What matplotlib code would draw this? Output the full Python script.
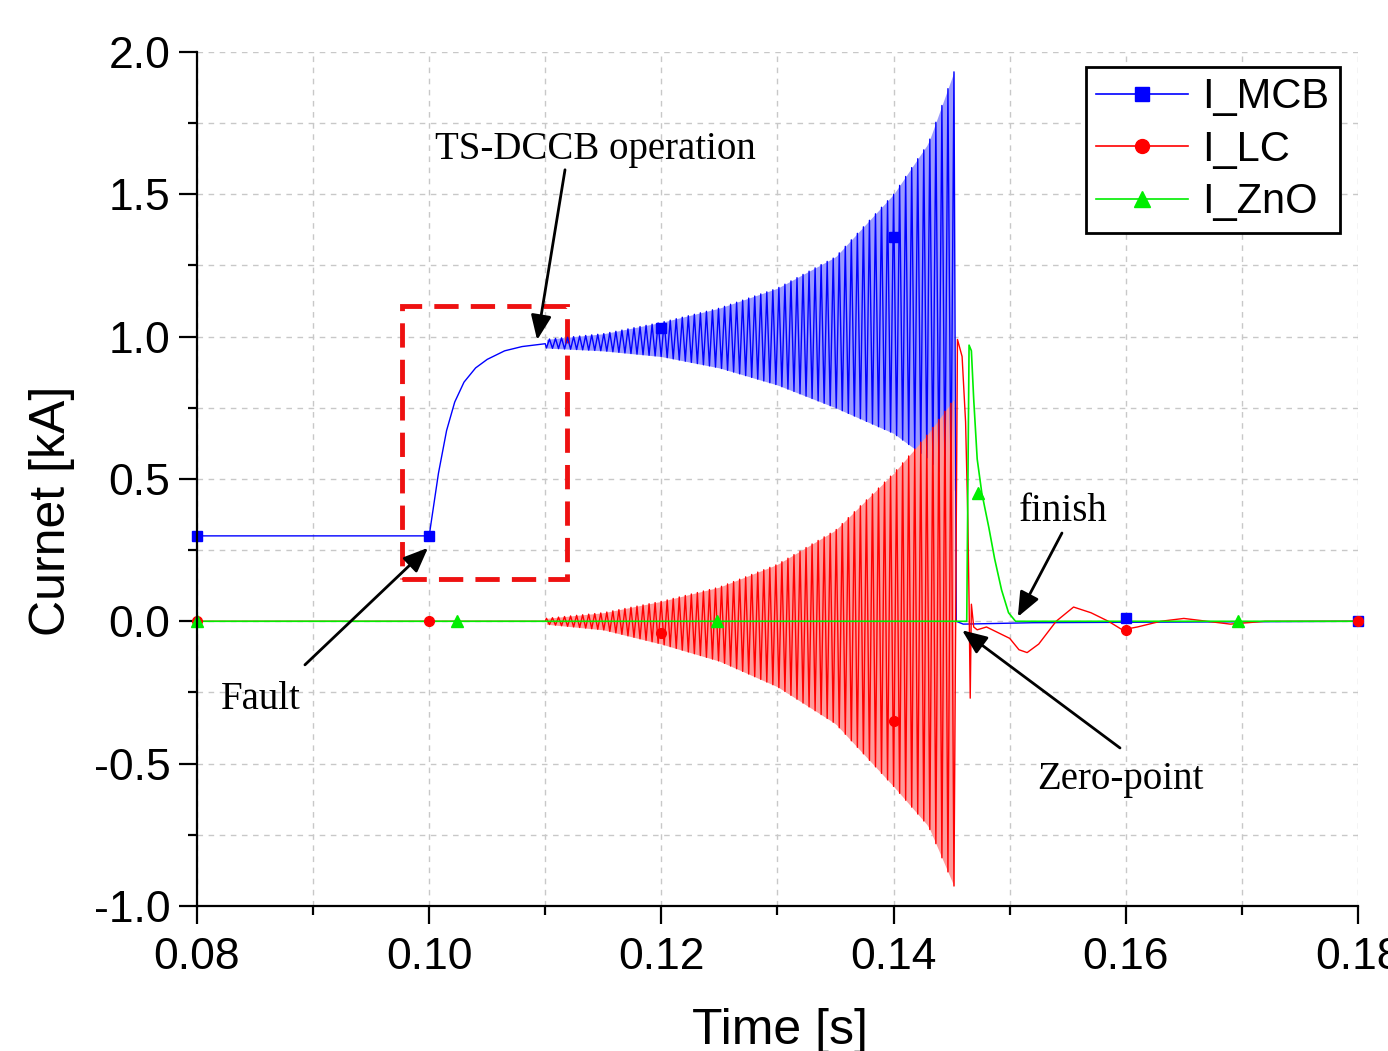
# Import required libraries
import matplotlib
matplotlib.use('Agg')
import matplotlib.pyplot as plt
import numpy as np
from matplotlib.ticker import MultipleLocator, FormatStrFormatter
from matplotlib.lines import Line2D
from matplotlib.patches import Rectangle

plt.rcParams['font.family'] = ['Liberation Sans', 'DejaVu Sans']
plt.rcParams['axes.unicode_minus'] = False

# ---- Data (time in s, current in kA) ----
# I_MCB before the oscillation (steady state, fault at 0.10 s, rise)
mcb_pre_t = [0.0800, 0.0998, 0.1000, 0.1008, 0.1015, 0.1022, 0.1030,
             0.1040, 0.1050, 0.1065, 0.1080, 0.1100]
mcb_pre = [0.30, 0.30, 0.30, 0.52, 0.67, 0.77, 0.84, 0.89, 0.92, 0.95,
           0.965, 0.975]

# Envelope of the oscillation (upper / lower peaks)
env_t = [0.1100, 0.1150, 0.1200, 0.1250, 0.1300, 0.1350, 0.1400, 0.1430, 0.1452]
mcb_upper = [0.99, 1.01, 1.05, 1.10, 1.17, 1.28, 1.50, 1.68, 1.93]
mcb_lower = [0.96, 0.95, 0.93, 0.89, 0.83, 0.75, 0.66, 0.57, 0.46]
lc_upper = [0.01, 0.03, 0.07, 0.12, 0.20, 0.32, 0.52, 0.66, 0.78]
lc_lower = [-0.01, -0.03, -0.08, -0.14, -0.23, -0.36, -0.58, -0.72, -0.93]
osc_start = 0.1101
osc_end = 0.1452
osc_period = 0.00052

# After current zero
mcb_post_t = [0.1454, 0.1460, 0.1520, 0.1800]
mcb_post = [0.0, -0.01, -0.005, 0.0]

lc_post_t = [0.1455, 0.1459, 0.1462, 0.1464, 0.1465, 0.1466, 0.1467, 0.1469,
             0.1472, 0.1480, 0.1490, 0.1500, 0.1508, 0.1515, 0.1525, 0.1540,
             0.1555, 0.1570, 0.1585, 0.1597, 0.1610, 0.1630, 0.1650, 0.1670,
             0.1690, 0.1720, 0.1800]
lc_post = [0.99, 0.93, 0.70, 0.35, 0.07, -0.27, 0.06, -0.02, -0.03, -0.02,
           -0.04, -0.06, -0.10, -0.11, -0.08, 0.0, 0.05, 0.03, 0.0, -0.03,
           -0.02, 0.0, 0.01, 0.0, -0.01, 0.0, 0.0]

zno_t = [0.0800, 0.1463, 0.1465, 0.1467, 0.1469, 0.1472, 0.1476, 0.1482,
         0.1487, 0.1493, 0.1499, 0.1505, 0.1800]
zno = [0.0, 0.0, 0.97, 0.95, 0.78, 0.57, 0.45, 0.33, 0.22, 0.11, 0.03, 0.0, 0.0]

# Marker samples
mcb_mark_t = [0.08, 0.10, 0.12, 0.14, 0.16, 0.18]
mcb_mark = [0.30, 0.30, 1.03, 1.35, 0.01, 0.0]
lc_mark_t = [0.08, 0.10, 0.12, 0.14, 0.16, 0.18]
lc_mark = [0.0, 0.0, -0.04, -0.35, -0.03, 0.0]
zno_mark_t = [0.08, 0.1024, 0.1248, 0.1473, 0.1697]
zno_mark = [0.0, 0.0, 0.0, 0.45, 0.0]

# ---- Build the oscillating part from the peaks ----
n_half = int(round((osc_end - osc_start) / (osc_period / 2)))
t_peaks = np.linspace(osc_start, osc_end, n_half + 1)
is_up = (n_half - np.arange(n_half + 1)) % 2 == 0
mcb_hi = np.interp(t_peaks, env_t, mcb_upper)
mcb_lo = np.interp(t_peaks, env_t, mcb_lower)
lc_hi = np.interp(t_peaks, env_t, lc_upper)
lc_lo = np.interp(t_peaks, env_t, lc_lower)
mcb_osc = np.where(is_up, mcb_hi, mcb_lo)
lc_osc = np.where(is_up, lc_lo, lc_hi)

mcb_t_all = np.concatenate([mcb_pre_t, t_peaks, mcb_post_t])
mcb_all = np.concatenate([mcb_pre, mcb_osc, mcb_post])
lc_t_all = np.concatenate([[0.08, osc_start - 0.0001], t_peaks, lc_post_t])
lc_all = np.concatenate([[0.0, 0.0], lc_osc, lc_post])

# ---- Figure ----
fig = plt.figure(figsize=(13.88, 10.51), dpi=100)
ax = fig.add_axes([0.1419, 0.1380, 0.8365, 0.8126])

# light band of the dense oscillation, then the lines on top
ax.fill_between(t_peaks, mcb_lo, mcb_hi, color='#9a9aff', lw=0)
ax.plot(mcb_t_all, mcb_all, color='#0000ff', lw=1.0)
ax.fill_between(t_peaks, lc_lo, lc_hi, color='#ff9a9a', lw=0)
ax.plot(lc_t_all, lc_all, color='#ff0000', lw=1.0)
ax.plot(zno_t, zno, color='#00ee00', lw=1.2)

ax.plot(mcb_mark_t, mcb_mark, 's', color='#0000ff', ms=7, clip_on=False)
ax.plot(lc_mark_t, lc_mark, 'o', color='#ff0000', ms=7, clip_on=False)
ax.plot(zno_mark_t, zno_mark, '^', color='#00ee00', ms=9, clip_on=False)

# red dashed box
ax.add_patch(Rectangle((0.0977, 0.149), 0.0142, 0.959, fill=False,
                       edgecolor='#ee1111', lw=3.5, linestyle=(0, (5, 2.5))))

# axes style
ax.set_xlim(0.08, 0.18)
ax.set_ylim(-1.0, 2.0)
ax.xaxis.set_major_locator(MultipleLocator(0.02))
ax.xaxis.set_minor_locator(MultipleLocator(0.01))
ax.yaxis.set_major_locator(MultipleLocator(0.5))
ax.yaxis.set_minor_locator(MultipleLocator(0.25))
ax.xaxis.set_major_formatter(FormatStrFormatter('%.2f'))
ax.yaxis.set_major_formatter(FormatStrFormatter('%.1f'))
ax.grid(True, which='both', linestyle=(0, (4, 4)), color='#c8c8c8', lw=1.0)
ax.set_axisbelow(True)
for s in ['top', 'right']:
    ax.spines[s].set_visible(False)
for s in ['left', 'bottom']:
    ax.spines[s].set_linewidth(1.6)
ax.tick_params(which='major', direction='out', length=13, width=1.6,
               labelsize=32, pad=6)
ax.tick_params(axis='x', which='major', pad=9)
ax.tick_params(which='minor', direction='out', length=6.5, width=1.6)

ax.set_xlabel('Time [s]', fontsize=36)
ax.set_ylabel('Curnet [kA]', fontsize=36)
ax.xaxis.set_label_coords(0.502, -0.12)
ax.yaxis.set_label_coords(-0.105, 0.4625)

# legend
handles = [
    Line2D([], [], color='#0000ff', lw=1.2, marker='s', ms=10),
    Line2D([], [], color='#ff0000', lw=1.2, marker='o', ms=10),
    Line2D([], [], color='#00ee00', lw=1.2, marker='^', ms=11),
]
leg = ax.legend(handles, ['I_MCB', 'I_LC', 'I_ZnO'], loc='upper right',
                bbox_to_anchor=(0.9845, 0.9824), borderaxespad=0,
                fontsize=30, fancybox=False, framealpha=1,
                edgecolor='black', handlelength=2.2, handletextpad=0.35,
                labelspacing=0.3, borderpad=0.25)
leg.get_frame().set_linewidth(2)

# annotations
serif = dict(fontfamily='Liberation Serif', fontsize=28, color='black')
arrow = dict(arrowstyle='-|>,head_length=0.6,head_width=0.25', color='black',
             lw=2, mutation_scale=25, shrinkA=0, shrinkB=0)

ax.text(0.1143, 1.656, 'TS-DCCB operation', ha='center', va='center', **serif)
ax.annotate('', xy=(0.1093, 0.988), xytext=(0.1117, 1.586), arrowprops=arrow)

ax.text(0.0855, -0.276, 'Fault', ha='center', va='center', **serif)
ax.annotate('', xy=(0.0999, 0.258), xytext=(0.0893, -0.153), arrowprops=arrow)

ax.text(0.1546, 0.384, 'finish', ha='center', va='center', **serif)
ax.annotate('', xy=(0.1507, 0.0155), xytext=(0.1545, 0.310), arrowprops=arrow)

ax.text(0.1595, -0.557, 'Zero-point', ha='center', va='center', **serif)
ax.annotate('', xy=(0.1459, -0.0316), xytext=(0.1595, -0.445), arrowprops=arrow)

fig.savefig('out.png', dpi=100)
